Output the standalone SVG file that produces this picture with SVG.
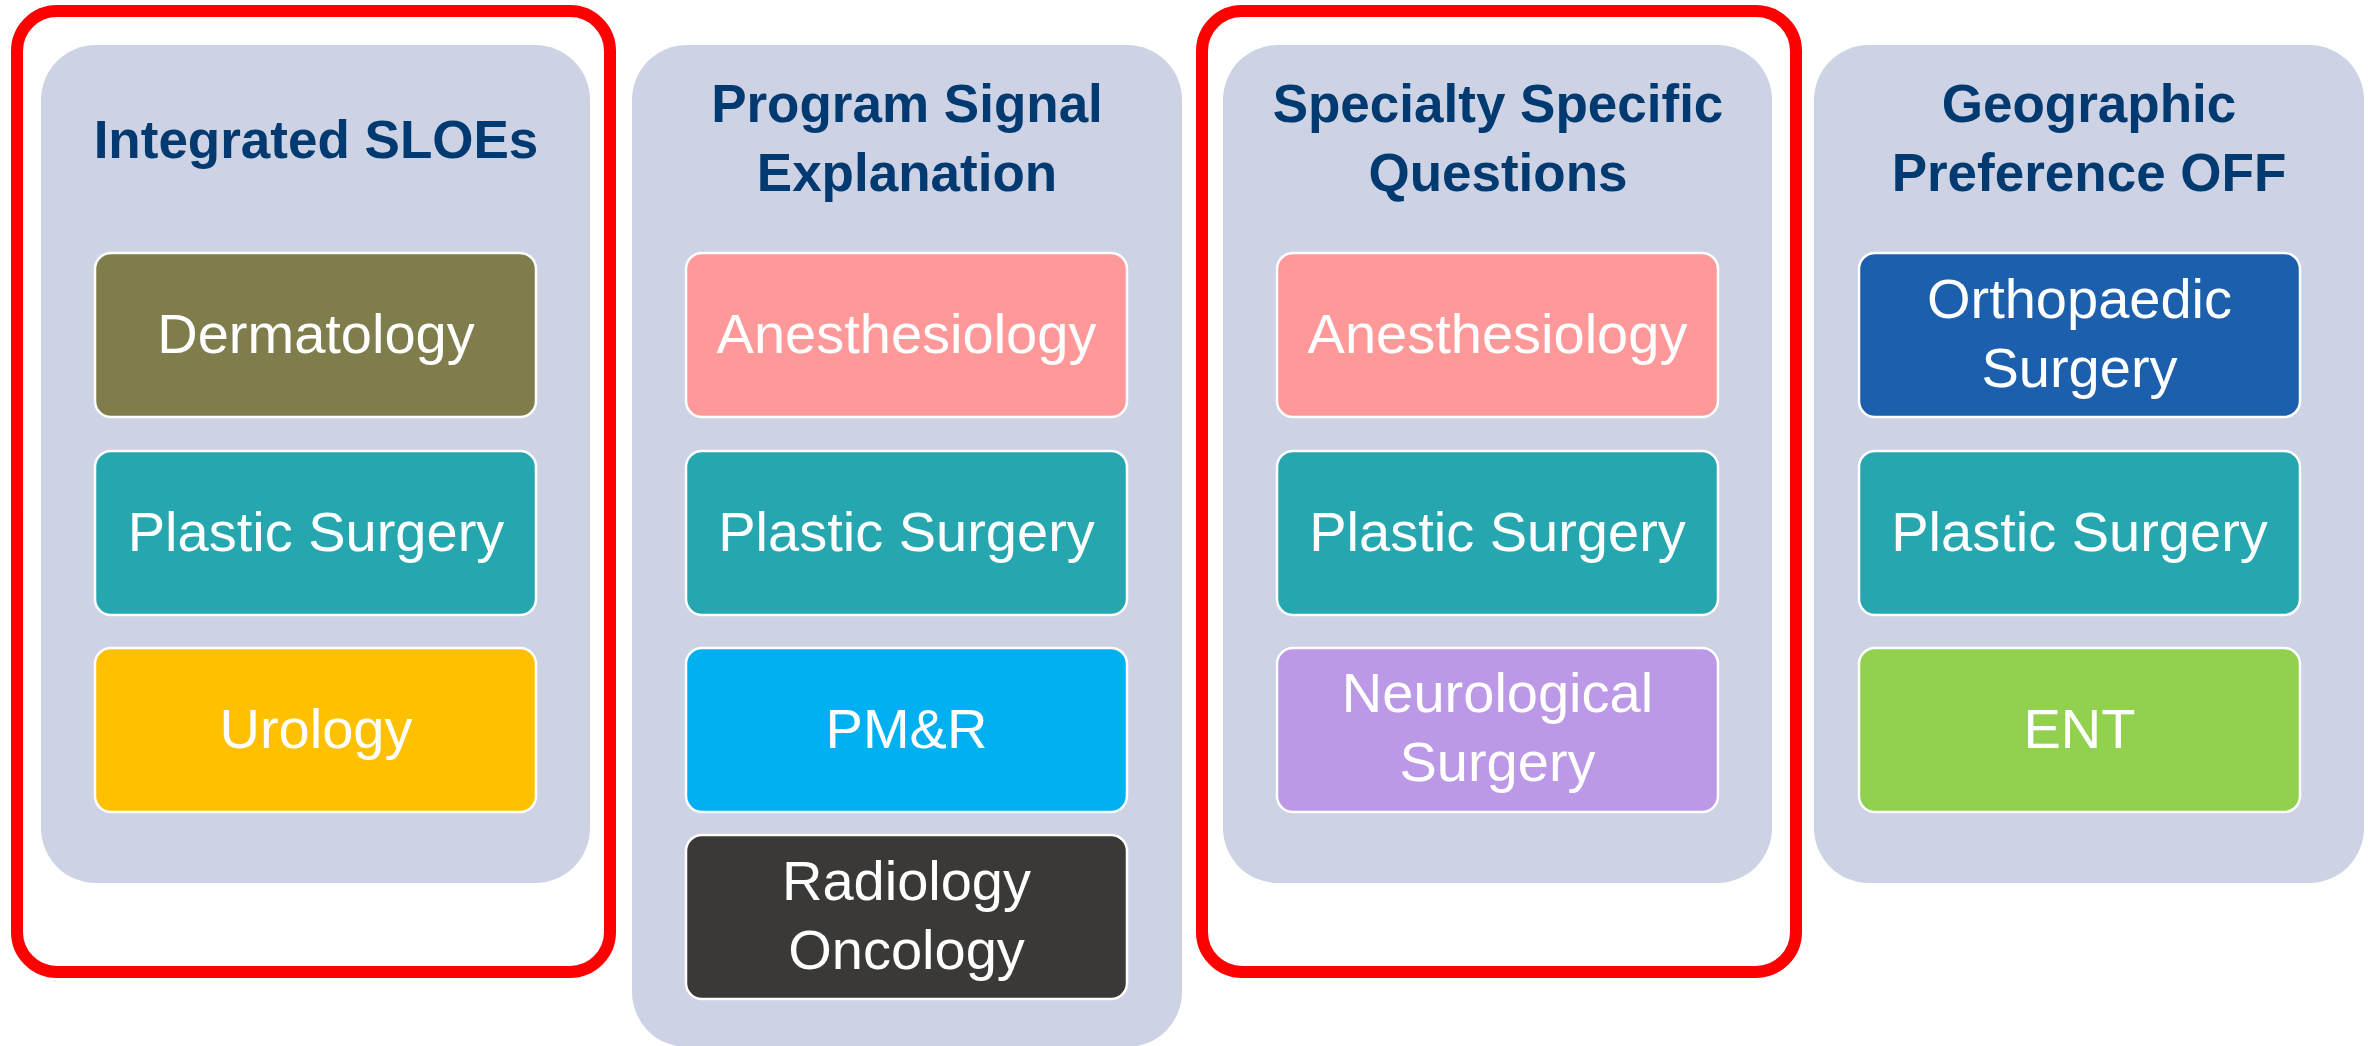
<svg xmlns="http://www.w3.org/2000/svg" width="2377" height="1046" viewBox="0 0 2377 1046">
<style>
.panel{fill:#CDD2E4}
.hl{fill:none;stroke:#FF0000;stroke-width:12}
.node{stroke:#FFFFFF;stroke-width:2.5}
.title{font-family:"Liberation Sans",Arial,sans-serif;font-weight:bold;font-size:53px;fill:#003A70;text-anchor:middle}
.lbl{font-family:"Liberation Sans",Arial,sans-serif;font-size:56px;fill:#FFFFFF;text-anchor:middle}
</style>
<rect width="2377" height="1046" fill="#FFFFFF"/>
<g id="col1">
<rect class="panel" x="41" y="45" width="549" height="838" rx="55"/>
<text class="title" x="316" y="158">Integrated SLOEs</text>
<g id="n-derm"><rect class="node" x="95" y="253" width="441" height="164" rx="16" fill="#7F7D4B"/><text class="lbl" x="316" y="353">Dermatology</text></g>
<g id="n-plastic1"><rect class="node" x="95" y="451" width="441" height="164" rx="16" fill="#26A7B0"/><text class="lbl" x="316" y="551">Plastic Surgery</text></g>
<g id="n-uro"><rect class="node" x="95" y="648" width="441" height="164" rx="16" fill="#FFC000"/><text class="lbl" x="316" y="748">Urology</text></g>
</g>
<g id="col2">
<rect class="panel" x="632" y="45" width="550" height="1002" rx="55"/>
<text class="title" x="907" y="122">Program Signal</text>
<text class="title" x="907" y="191">Explanation</text>
<g id="n-anes2"><rect class="node" x="686" y="253" width="441" height="164" rx="16" fill="#FF9999"/><text class="lbl" x="906.5" y="353">Anesthesiology</text></g>
<g id="n-plastic2"><rect class="node" x="686" y="451" width="441" height="164" rx="16" fill="#26A7B0"/><text class="lbl" x="906.5" y="551">Plastic Surgery</text></g>
<g id="n-pmr"><rect class="node" x="686" y="648" width="441" height="164" rx="16" fill="#00B0F0"/><text class="lbl" x="906.5" y="748">PM&amp;R</text></g>
<g id="n-radonc"><rect class="node" x="686" y="835" width="441" height="164" rx="16" fill="#3B3937"/><text class="lbl" x="906.5" y="900">Radiology</text><text class="lbl" x="906.5" y="969">Oncology</text></g>
</g>
<g id="col3">
<rect class="panel" x="1223" y="45" width="549" height="838" rx="55"/>
<text class="title" x="1498" y="122">Specialty Specific</text>
<text class="title" x="1498" y="191">Questions</text>
<g id="n-anes3"><rect class="node" x="1277" y="253" width="441" height="164" rx="16" fill="#FF9999"/><text class="lbl" x="1497.5" y="353">Anesthesiology</text></g>
<g id="n-plastic3"><rect class="node" x="1277" y="451" width="441" height="164" rx="16" fill="#26A7B0"/><text class="lbl" x="1497.5" y="551">Plastic Surgery</text></g>
<g id="n-neuro"><rect class="node" x="1277" y="648" width="441" height="164" rx="16" fill="#BC99E6"/><text class="lbl" x="1497.5" y="712">Neurological</text><text class="lbl" x="1497.5" y="781">Surgery</text></g>
</g>
<g id="col4">
<rect class="panel" x="1814" y="45" width="550" height="838" rx="55"/>
<text class="title" x="2089" y="122">Geographic</text>
<text class="title" x="2089" y="191">Preference OFF</text>
<g id="n-ortho"><rect class="node" x="1859" y="253" width="441" height="164" rx="16" fill="#1B5FAD"/><text class="lbl" x="2079.5" y="318">Orthopaedic</text><text class="lbl" x="2079.5" y="387">Surgery</text></g>
<g id="n-plastic4"><rect class="node" x="1859" y="451" width="441" height="164" rx="16" fill="#26A7B0"/><text class="lbl" x="2079.5" y="551">Plastic Surgery</text></g>
<g id="n-ent"><rect class="node" x="1859" y="648" width="441" height="164" rx="16" fill="#92D050"/><text class="lbl" x="2079.5" y="748">ENT</text></g>
</g>
<g id="highlights">
<rect class="hl" x="17" y="11" width="593" height="961" rx="40"/>
<rect class="hl" x="1202" y="11" width="594" height="961" rx="40"/>
</g>
<g id="connectors"></g>
</svg>
